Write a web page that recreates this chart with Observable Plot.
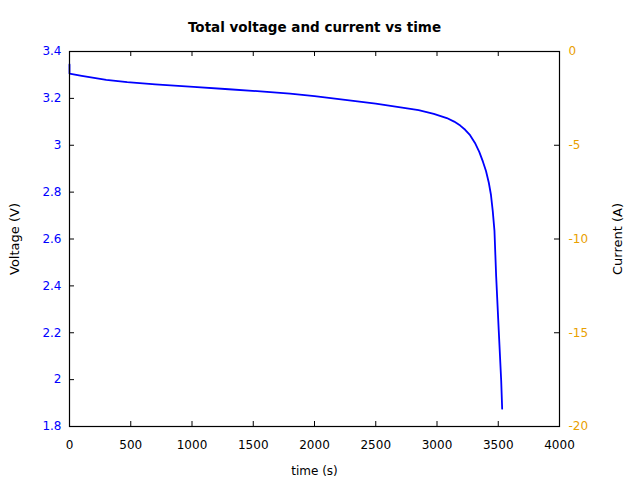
<!DOCTYPE html>
<html>
<head>
<meta charset="utf-8">
<script src="https://cdn.jsdelivr.net/npm/d3@7"></script>
<script src="https://cdn.jsdelivr.net/npm/@observablehq/plot@0.6"></script>
<style>
  html, body { margin: 0; padding: 0; background: #fff; }
  svg { font-family: "DejaVu Sans", sans-serif; }
</style>
</head>
<body>
<div id="chart"></div>
<script>
const titleText = "Total voltage and current vs time";
const timeS = [0, 0, 100, 200, 300, 471, 700, 1012, 1300, 1559, 1800, 2000, 2250, 2500, 2702, 2850, 2974, 3080, 3140, 3190, 3230, 3270, 3310, 3345, 3375, 3400, 3423, 3440, 3455, 3469, 3483, 3504, 3524, 3532];
const voltage = [3.345, 3.306, 3.296, 3.287, 3.279, 3.269, 3.260, 3.249, 3.239, 3.230, 3.220, 3.210, 3.194, 3.178, 3.162, 3.150, 3.134, 3.116, 3.101, 3.084, 3.066, 3.043, 3.010, 2.972, 2.930, 2.89, 2.84, 2.79, 2.72, 2.636, 2.440, 2.210, 1.996, 1.876];
const xTicks = [0, 500, 1000, 1500, 2000, 2500, 3000, 3500, 4000];
const vTicks = [1.8, 2.0, 2.2, 2.4, 2.6, 2.8, 3.0, 3.2, 3.4];
const iTicks = [0, -5, -10, -15, -20];
const vDomain = [1.8, 3.4];
const iDomain = [-20, 0];

const data = timeS.map((t, i) => ({t, v: voltage[i]}));
// map current to voltage scale
const iToV = d3.scaleLinear().domain(iDomain).range(vDomain);

const W = 640, H = 480;
const mL = 69, mR = 81, mT = 51, mB = 54;
const pw = W - mL - mR, ph = H - mT - mB;
const tick = 5;
const orange = "#e9a000";

const chart = Plot.plot({
  width: W, height: H,
  marginLeft: mL, marginRight: mR, marginTop: mT, marginBottom: mB,
  style: {fontFamily: "DejaVu Sans, sans-serif", fontSize: "12px", background: "#fff"},
  x: {domain: [0, 4000]},
  y: {domain: vDomain},
  marks: [
    Plot.line(data, {x: "t", y: "v", stroke: "#0000ff", strokeWidth: 1.8, strokeLinejoin: "round"}),
    Plot.frame({stroke: "black", strokeWidth: 1.2}),
    // inward ticks
    Plot.tickY(vTicks, {y: d => d, insetRight: pw - tick, stroke: "black"}),
    Plot.tickY(iTicks.map(iToV), {y: d => d, insetLeft: pw - tick, stroke: "black"}),
    Plot.tickX(xTicks, {x: d => d, insetTop: ph - tick, stroke: "black"}),
    Plot.tickX(xTicks, {x: d => d, insetBottom: ph - tick, stroke: "black"}),
    Plot.axisX(xTicks, {tickSize: 0, tickPadding: 14, fill: "black", fontSize: 12,
      tickFormat: d => String(d),
      label: "time (s)", labelAnchor: "center", labelArrow: "none", labelOffset: 48, labelFontSize: 13}),
    Plot.axisY(vTicks, {anchor: "left", tickSize: 0, tickPadding: 8, fill: "#0000ff", fontSize: 12,
      tickFormat: d => String(+d.toFixed(1)),
      label: null}),
    Plot.axisY(iTicks.map(iToV), {anchor: "right", tickSize: 0, tickPadding: 9, fill: orange, fontSize: 12,
      tickFormat: d => String(Math.round(iToV.invert(d))),
      label: null}),
    Plot.text(["Voltage (V)"], {text: d => d, frameAnchor: "left", dx: -55, rotate: -90, textAnchor: "middle", lineAnchor: "middle", fontSize: 13, fill: "black"}),
    Plot.text(["Current (A)"], {text: d => d, frameAnchor: "right", dx: 58, rotate: -90, textAnchor: "middle", lineAnchor: "middle", fontSize: 13, fill: "black"}),
    Plot.text([titleText], {text: d => d, frameAnchor: "top", dy: -24, lineAnchor: "middle", fontSize: 13.5, fontWeight: "bold", fill: "black"})
  ]
});
document.getElementById("chart").appendChild(chart);
</script>
</body>
</html>
